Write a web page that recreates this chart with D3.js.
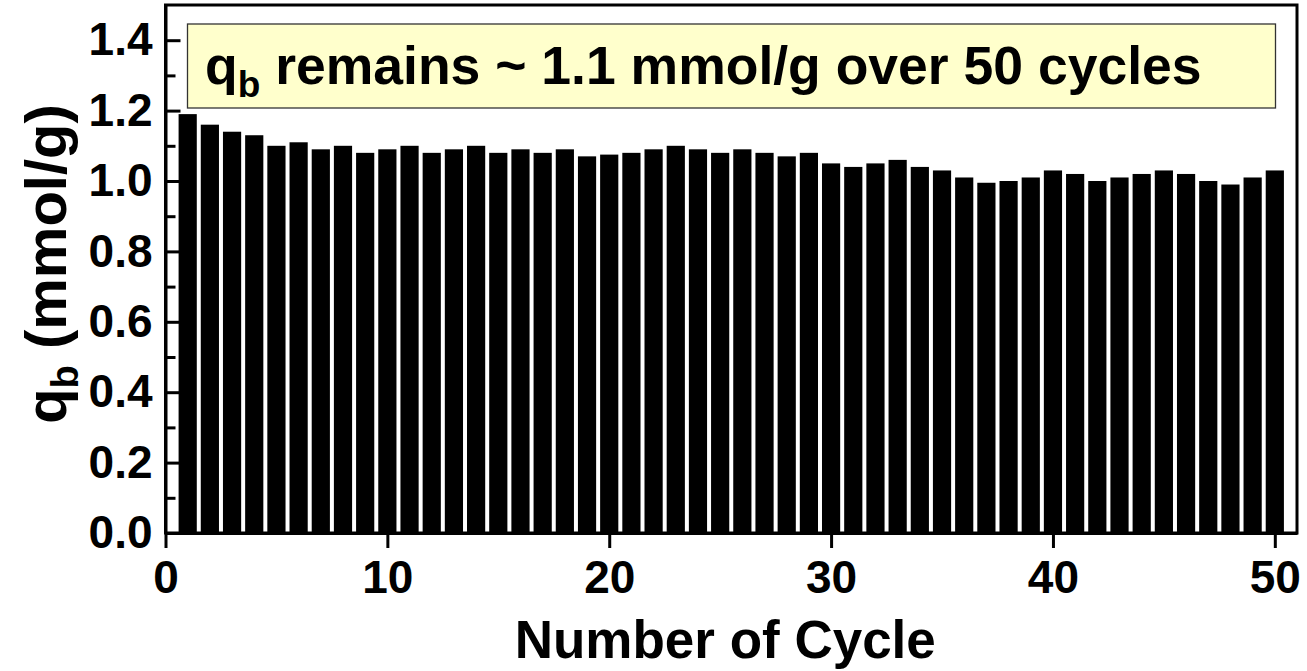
<!DOCTYPE html>
<html>
<head>
<meta charset="utf-8">
<script src="https://cdn.jsdelivr.net/npm/d3@7"></script>
<style>
  html, body { margin: 0; padding: 0; background: #fff; }
  svg { display: block; }
  text { font-family: "Liberation Sans", Arial, Helvetica, sans-serif; font-weight: bold; fill: #000; }
</style>
</head>
<body>
<svg id="chart" width="1307" height="671"></svg>
<script>
// Adsorption capacity q_b (mmol/g) measured over repeated adsorption cycles
const cycles = d3.range(1, 51);
const capacity = [
  1.19, 1.16, 1.14, 1.13, 1.10, 1.11, 1.09, 1.10, 1.08, 1.09,
  1.10, 1.08, 1.09, 1.10, 1.08, 1.09, 1.08, 1.09, 1.07, 1.075,
  1.08, 1.09, 1.10, 1.09, 1.08, 1.09, 1.08, 1.07, 1.08, 1.05,
  1.04, 1.05, 1.06, 1.04, 1.03, 1.01, 0.995, 1.00, 1.01, 1.03,
  1.02, 1.00, 1.01, 1.02, 1.03, 1.02, 1.00, 0.99, 1.01, 1.03
];
const xMajorTicks = [0, 10, 20, 30, 40, 50];
const xMinorTicks = [5, 15, 25, 35, 45];
const yMajorTicks = [0, 0.2, 0.4, 0.6, 0.8, 1.0, 1.2, 1.4];
const yMinorTicks = [0.1, 0.3, 0.5, 0.7, 0.9, 1.1, 1.3];
const note = { main: "q", sub: "b", rest: " remains ~ 1.1 mmol/g over 50 cycles" };

const svg = d3.select("#chart");
const plotL = 165.5, plotR = 1297, plotT = 5, plotB = 533;

const x = d3.scaleLinear().domain([0, 51]).range([plotL, plotR]);
const y = d3.scaleLinear().domain([0, 1.5]).range([plotB, plotT]);
const barW = 0.82;

// bars
svg.append("g")
  .selectAll("rect")
  .data(cycles.map((c, i) => ({ c, v: capacity[i] })))
  .join("rect")
  .attr("x", d => x(d.c - barW / 2))
  .attr("width", x(barW) - x(0))
  .attr("y", d => y(d.v))
  .attr("height", d => y(0) - y(d.v))
  .attr("fill", "#000");

// frame (top and right edges)
svg.append("rect")
  .attr("x", plotL).attr("y", plotT)
  .attr("width", plotR - plotL).attr("height", plotB - plotT)
  .attr("fill", "none").attr("stroke", "#000").attr("stroke-width", 3);

function styleAxis(g) {
  g.selectAll(".domain").attr("stroke", "#000").attr("stroke-width", 3);
  g.selectAll(".tick line").attr("stroke", "#000").attr("stroke-width", 3);
  g.selectAll(".tick text").attr("fill", "#000")
    .style("font-size", "46px").style("font-weight", "bold")
    .style("font-family", "'Liberation Sans', Arial, sans-serif");
}

// y axis: inward ticks
svg.append("g")
  .attr("transform", `translate(${plotL},0)`)
  .call(d3.axisLeft(y).tickValues(yMajorTicks).tickSizeInner(-15).tickSizeOuter(0)
    .tickPadding(13).tickFormat(d3.format(".1f")))
  .call(styleAxis);
svg.append("g")
  .attr("transform", `translate(${plotL},0)`)
  .call(d3.axisLeft(y).tickValues(yMinorTicks).tickSizeInner(-10).tickSizeOuter(0).tickFormat(""))
  .call(g => g.select(".domain").remove())
  .call(styleAxis);

// x axis: outward major ticks
svg.append("g")
  .attr("transform", `translate(0,${plotB})`)
  .call(d3.axisBottom(x).tickValues(xMajorTicks).tickSizeInner(15).tickSizeOuter(0)
    .tickPadding(12).tickFormat(d3.format("d")))
  .call(styleAxis);
svg.append("g")
  .attr("transform", `translate(0,${plotB})`)
  .call(d3.axisBottom(x).tickValues(xMinorTicks).tickSizeInner(-10).tickSizeOuter(0).tickFormat(""))
  .call(g => g.select(".domain").remove())
  .call(styleAxis);

// axis titles
svg.append("text")
  .attr("x", (plotL + plotR) / 2 - 6).attr("y", 658)
  .attr("text-anchor", "middle")
  .style("font-size", "53px")
  .text("Number of Cycle");

const yt = svg.append("text")
  .attr("transform", "translate(66,264) rotate(-90)")
  .attr("text-anchor", "middle")
  .style("font-size", "58px");
yt.append("tspan").text("q");
yt.append("tspan").attr("dy", 12).style("font-size", "38px").text("b");
yt.append("tspan").attr("dy", -12).text(" (mmol/g)");

// annotation box
svg.append("rect")
  .attr("x", 187.5).attr("y", 24)
  .attr("width", 1088).attr("height", 84)
  .attr("fill", "#FFFFCC").attr("stroke", "#333").attr("stroke-width", 1.3);

const nt = svg.append("text")
  .attr("x", 205).attr("y", 84)
  .style("font-size", "53.5px");
nt.append("tspan").text(note.main);
nt.append("tspan").attr("dy", 13).style("font-size", "37px").text(note.sub);
nt.append("tspan").attr("dy", -13).text(note.rest);
</script>
</body>
</html>
